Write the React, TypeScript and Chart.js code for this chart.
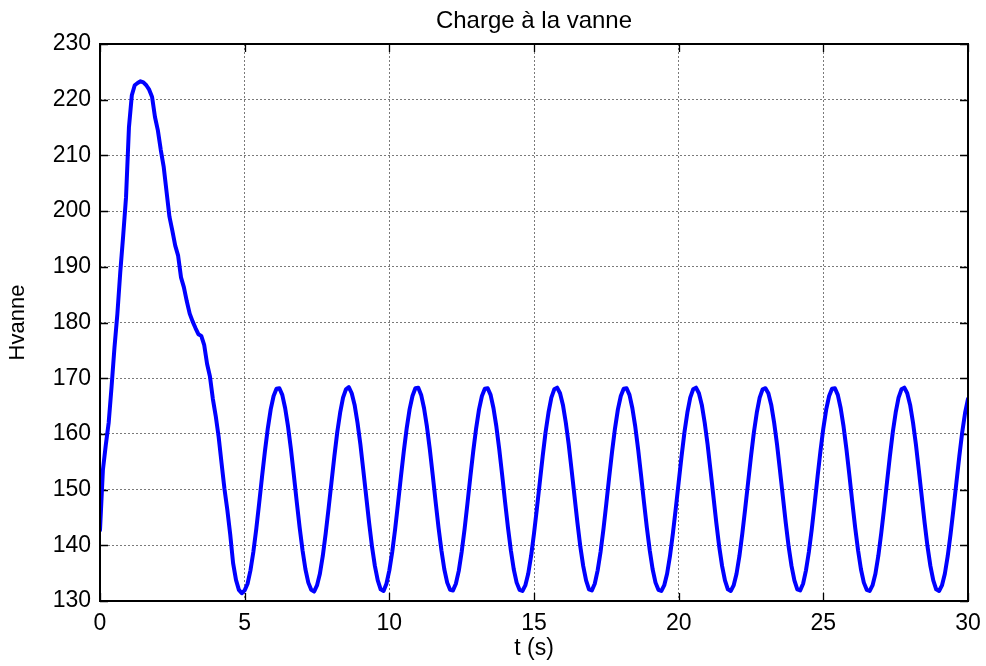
import React, { useEffect, useRef } from "react";
import { Chart, registerables } from "chart.js";

Chart.register(...registerables);

const TITLE = "Charge à la vanne";
const X_LABEL = "t (s)";
const Y_LABEL = "Hvanne";

const T_STEP = 0.1; // sampling step of the series (s)
const X_TICKS = [0, 5, 10, 15, 20, 25, 30];
const Y_TICKS = [130, 140, 150, 160, 170, 180, 190, 200, 210, 220, 230];

// t = 0.0 .. 4.9 s
const TRANSIENT = [
  142.7, 153.5, 158.0, 162.0, 168.5, 175.5, 181.5, 189.0, 195.5, 202.5,
  215.0, 220.8, 222.6, 223.0, 223.3, 223.1, 222.6, 221.8, 220.5, 216.9,
  214.5, 211.0, 208.0, 203.5, 199.0, 196.5, 193.8, 192.0, 188.1, 186.3,
  183.8, 181.6, 180.2, 179.0, 177.9, 177.6, 176.0, 172.6, 170.3, 166.3,
  163.2, 159.5, 154.8, 150.2, 146.4, 142.0, 136.8, 133.8, 132.0, 131.4,
];

// successive oscillation cycles, 2.4 s each (24 samples)
const CYCLE_1 = [131.9, 133.1, 135.5, 138.8, 142.9, 147.5, 152.3, 156.9, 161.0, 164.4, 166.8, 168.1, 168.2, 167.0, 164.6, 161.3, 157.2, 152.6, 147.8, 143.2, 139.1, 135.7, 133.3, 132.0];
const CYCLE_2 = [131.7, 132.8, 134.9, 138.1, 142.1, 146.6, 151.3, 156.0, 160.3, 163.8, 166.5, 168.0, 168.4, 167.3, 165.2, 162.0, 158.1, 153.5, 148.8, 144.1, 139.8, 136.3, 133.7, 132.1];
const CYCLE_3 = [131.8, 133.1, 135.5, 138.8, 142.9, 147.5, 152.3, 156.9, 161.0, 164.4, 166.8, 168.2, 168.3, 167.0, 164.6, 161.3, 157.2, 152.6, 147.8, 143.2, 139.1, 135.7, 133.3, 132.0];
const CYCLE_4 = [131.9, 133.1, 135.4, 138.8, 142.9, 147.5, 152.3, 156.9, 161.0, 164.4, 166.8, 168.1, 168.2, 167.0, 164.6, 161.3, 157.2, 152.6, 147.8, 143.2, 139.1, 135.7, 133.3, 132.0];
const CYCLE_5 = [131.8, 132.8, 134.9, 138.1, 142.1, 146.6, 151.3, 156.0, 160.3, 163.8, 166.5, 168.0, 168.3, 167.3, 165.2, 162.0, 158.1, 153.5, 148.8, 144.1, 139.8, 136.3, 133.7, 132.1];
const CYCLE_6 = [131.9, 133.1, 135.5, 138.8, 142.9, 147.5, 152.3, 156.9, 161.0, 164.4, 166.8, 168.1, 168.2, 167.0, 164.6, 161.3, 157.2, 152.6, 147.8, 143.2, 139.1, 135.7, 133.3, 132.0];
const CYCLE_7 = [131.8, 132.8, 134.9, 138.1, 142.1, 146.6, 151.3, 156.0, 160.3, 163.8, 166.5, 168.0, 168.3, 167.3, 165.2, 162.0, 158.1, 153.5, 148.8, 144.1, 139.8, 136.3, 133.7, 132.1];
const CYCLE_8 = [131.8, 132.8, 134.9, 138.1, 142.1, 146.6, 151.3, 156.0, 160.3, 163.8, 166.5, 168.0, 168.2, 167.3, 165.2, 162.0, 158.1, 153.5, 148.8, 144.1, 139.8, 136.3, 133.7, 132.1];
const CYCLE_9 = [131.9, 133.1, 135.5, 138.8, 142.9, 147.5, 152.3, 156.9, 161.0, 164.4, 166.8, 168.1, 168.2, 167.0, 164.6, 161.3, 157.2, 152.6, 147.8, 143.2, 139.1, 135.7, 133.3, 132.0];
const CYCLE_10 = [131.8, 132.8, 134.9, 138.1, 142.1, 146.6, 151.3, 156.0, 160.3, 163.8, 166.5, 168.0, 168.3, 167.3, 165.2, 162.0, 158.1, 153.5, 148.8, 144.1, 139.8, 136.3, 133.7, 132.1];
// t = 29.0 .. 30.0 s
const CYCLE_11 = [131.8, 132.8, 134.9, 138.1, 142.1, 146.6, 151.3, 156.0, 160.3, 163.8, 166.3];

const FONT_FAMILY = '"Liberation Sans", Arial, Helvetica, sans-serif';

const framePlugin = {
  id: "matlabFrame",
  beforeDatasetsDraw(chart: any) {
    const { ctx, chartArea, scales } = chart;
    const { left, right, top, bottom } = chartArea;
    const x = scales.x;
    const y = scales.y;
    ctx.save();
    ctx.strokeStyle = "#000";
    ctx.lineWidth = 1.3;
    const tl = 8;
    ctx.beginPath();
    X_TICKS.forEach((v) => {
      const px = Math.round(x.getPixelForValue(v)) + 0.5;
      ctx.moveTo(px, bottom);
      ctx.lineTo(px, bottom - tl);
      ctx.moveTo(px, top);
      ctx.lineTo(px, top + tl);
    });
    Y_TICKS.forEach((v) => {
      const py = Math.round(y.getPixelForValue(v)) + 0.5;
      ctx.moveTo(left, py);
      ctx.lineTo(left + tl, py);
      ctx.moveTo(right, py);
      ctx.lineTo(right - tl, py);
    });
    ctx.stroke();
    ctx.restore();
  },
  afterDraw(chart: any) {
    const { ctx, chartArea } = chart;
    const { left, right, top, bottom } = chartArea;
    ctx.save();
    ctx.strokeStyle = "#000";
    ctx.lineWidth = 2;
    ctx.strokeRect(left, top, right - left, bottom - top);
    ctx.fillStyle = "#000";
    ctx.font = `24px ${FONT_FAMILY}`;
    ctx.textAlign = "center";
    ctx.textBaseline = "middle";
    ctx.fillText(TITLE, (left + right) / 2, 21);
    ctx.restore();
  },
};

export default function App() {
  const ref = useRef<HTMLCanvasElement>(null);

  useEffect(() => {
    if (!ref.current) return;
    const values = [
      ...TRANSIENT,
      ...CYCLE_1, ...CYCLE_2, ...CYCLE_3, ...CYCLE_4, ...CYCLE_5,
      ...CYCLE_6, ...CYCLE_7, ...CYCLE_8, ...CYCLE_9, ...CYCLE_10, ...CYCLE_11,
    ];
    const points = values.map((v, i) => ({ x: Math.round(i * T_STEP * 100) / 100, y: v }));

    const tickFont = { family: FONT_FAMILY, size: 23 };
    const chart = new Chart(ref.current, {
      type: "line",
      data: {
        datasets: [
          {
            data: points,
            borderColor: "#0000ff",
            borderWidth: 4,
            pointRadius: 0,
            tension: 0,
            fill: false,
            borderJoinStyle: "round",
            borderCapStyle: "round",
          },
        ],
      },
      options: {
        responsive: false,
        animation: false,
        devicePixelRatio: 1,
        layout: { padding: { top: 44, right: 18, left: 0, bottom: 0 } },
        plugins: {
          legend: { display: false },
          tooltip: { enabled: false },
          title: { display: false },
        },
        scales: {
          x: {
            type: "linear",
            min: 0,
            max: 30,
            afterFit: (s: any) => {
              s.height = 65;
              s.paddingLeft = 0;
              s.paddingRight = 0;
            },
            grid: { color: "#7a7a7a", lineWidth: 1, drawTicks: false },
            border: { display: false, dash: [2, 2] },
            ticks: { stepSize: 5, padding: 9, color: "#000", font: tickFont, maxRotation: 0 },
            title: {
              display: true,
              text: X_LABEL,
              color: "#000",
              font: { family: FONT_FAMILY, size: 23 },
              padding: { top: 4, bottom: 4 },
            },
          },
          y: {
            type: "linear",
            min: 130,
            max: 230,
            afterFit: (s: any) => {
              s.width = 100;
              s.paddingTop = 0;
              s.paddingBottom = 0;
            },
            grid: { color: "#7a7a7a", lineWidth: 1, drawTicks: false },
            border: { display: false, dash: [2, 2] },
            ticks: { stepSize: 10, padding: 9, color: "#000", font: tickFont },
            title: {
              display: true,
              text: Y_LABEL,
              color: "#000",
              font: { family: FONT_FAMILY, size: 22 },
              padding: { top: 5, bottom: 5 },
            },
          },
        },
      },
      plugins: [framePlugin],
    } as any);
    return () => chart.destroy();
  }, []);

  return (
    <div style={{ position: "absolute", left: 0, top: 0, width: 986, height: 666, background: "#fff" }}>
      <canvas ref={ref} width={986} height={666} style={{ display: "block" }} />
    </div>
  );
}
